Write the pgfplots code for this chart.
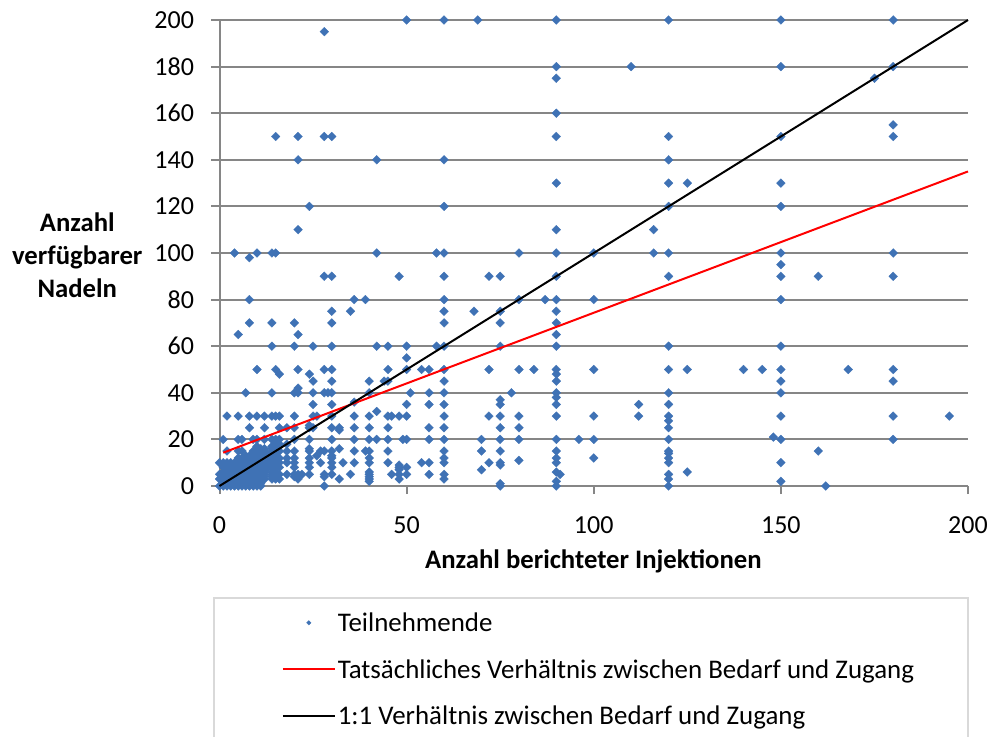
\documentclass[border=0pt]{standalone}
\usepackage{fontspec}
\setmainfont{Carlito}
\usepackage{pgfplots}
\pgfplotsset{compat=1.18}
\definecolor{gridg}{HTML}{868686}
\definecolor{ptblue}{HTML}{3F72B5}
\definecolor{frameg}{HTML}{D9D9D9}
\pgfplotsset{
  redlegend/.style={legend image code/.code={\draw[draw=red,line width=2pt] (0pt,0pt)--(52pt,0pt);}},
  blacklegend/.style={legend image code/.code={\draw[draw=black,line width=2pt] (0pt,0pt)--(52pt,0pt);}},
  marklegend/.style={legend image code/.code={\draw[mark repeat=2,mark phase=2,##1,mark size=1.6pt] plot coordinates {(0pt,0pt)(26pt,0pt)(52pt,0pt)};}},
}
\begin{document}
\begin{tikzpicture}[x=1pt,y=1pt]
\useasboundingbox (0,0) rectangle (992,736);
\clip (0,0) rectangle (992,736);
\draw[frameg,line width=1.6pt] (214,-10) -- (214,138) -- (968,138) -- (968,-10);
\begin{axis}[
  at={(219.5pt,250pt)},anchor=south west,
  width=748.5pt,height=466pt,scale only axis,
  xmin=0,xmax=200,ymin=0,ymax=200,
  xtick={0,50,100,150,200},ytick={0,20,...,200},
  axis lines=left,
  axis line style={-,gridg,line width=2pt},
  ymajorgrids,
  grid style={gridg,line width=2pt},
  tick align=outside,major tick length=8pt,
  tick style={gridg,line width=2pt},
  tick label style={font=\fontsize{26}{28}\selectfont},
  /pgf/number format/assume math mode=true,
  xticklabel style={yshift=-19pt},
  yticklabel style={xshift=-14pt},
  xlabel={\textbf{Anzahl berichteter Injektionen}},
  xlabel style={font=\fontsize{26.7}{28}\selectfont,anchor=center,at={(axis description cs:0.4995,-0.161)}},
  ylabel={\textbf{Anzahl}\\\textbf{verfügbarer}\\\textbf{Nadeln}},
  ylabel style={font=\fontsize{26.7}{33}\selectfont,rotate=-90,align=center,anchor=center,at={(axis description cs:-0.19,0.496)}},
  clip mode=individual,clip=false,
  legend style={at={(axis description cs:0.083,-0.2672)},anchor=north west,draw=none,fill=none,
    font=\fontsize{26.9}{29}\selectfont,inner sep=0pt,row sep=22.5pt,
    /tikz/every even column/.append style={column sep=6pt}},
  legend cell align=left,
]
\addplot[only marks,mark=square*,mark options={rotate=45,fill=ptblue,draw=ptblue,line width=0.3pt},mark size=3.1pt,marklegend]
coordinates {
(50,200)(60,200)(69,200)(90,200)(120,200)(150,200)(180,200)
(28,195)
(90,180)(110,180)(150,180)(180,180)(90,175)(175,175)(90,160)(180,155)
(15,150)(21,150)(28,150)(30,150)(90,150)(120,150)(150,150)(180,150)
(21,140)(42,140)(60,140)(120,140)
(90,130)(120,130)(125,130)(150,130)
(24,120)(60,120)(120,120)(150,120)
(21,110)(90,110)(116,110)
(4,100)(10,100)(14,100)(15,100)(42,100)(58,100)(60,100)(80,100)(90,100)(100,100)(116,100)(120,100)(150,100)(180,100)
(8,98)(150,95)
(28,90)(30,90)(48,90)(60,90)(72,90)(75,90)(90,90)(120,90)(150,90)(160,90)(180,90)
(8,80)(36,80)(39,80)(60,80)(80,80)(87,80)(90,80)(100,80)(150,80)
(30,75)(35,75)(60,75)(68,75)(75,75)(90,75)
(8,70)(14,70)(20,70)(30,70)(60,70)(75,70)(90,70)
(5,65)(21,65)(90,65)
(14,60)(20,60)(25,60)(30,60)(42,60)(45,60)(50,60)(58,60)(60,60)(75,60)(90,60)(120,60)(150,60)
(50,55)
(10,50)(15,50)(21,50)(28,50)(30,50)(45,50)(50,50)(54,50)(56,50)(60,50)(72,50)(80,50)(84,50)(90,50)(100,50)(120,50)(125,50)(140,50)(145,50)(150,50)(168,50)(180,50)
(16,48)(24,48)(90,48)
(25,45)(30,45)(40,45)(44,45)(45,45)(60,45)(90,45)(150,45)(180,45)
(21,42)(7,40)(14,40)(20,40)(21,40)(25,40)(28,40)(29,40)(30,40)(40,40)(51,40)(56,40)(60,40)(78,40)(90,40)(120,40)(150,40)
(75,37)(90,38)
(25,35)(30,35)(36,36)(50,35)(56,35)(60,35)(75,35)(90,35)(112,35)(120,35)
(42,32)
(2,30)(5,30)(8,30)(10,30)(12,30)(14,30)(15,30)(16,30)(20,30)(25,30)(26,30)(30,30)(36,30)(40,30)(45,30)(46,30)(48,30)(50,30)(60,30)(72,30)(75,30)(80,30)(90,30)(100,30)(112,30)(120,30)(150,30)(180,30)(195,30)
(120,28)(24,26)
(8,25)(12,25)(16,25)(18,25)(20,25)(24,25)(25,25)(30,25)(32,25)(36,25)(40,25)(45,25)(56,25)(60,25)(75,25)(80,25)(120,25)(32,24)
(148,21)
(1,20)(5,20)(6,20)(9,20)(10,20)(12,20)(14,20)(15,20)(16,20)(20,20)(24,20)(30,20)(36,20)(40,20)(42,20)(45,20)(49,20)(50,20)(56,20)(60,20)(70,20)(75,20)(80,20)(90,20)(96,20)(100,20)(120,20)(150,20)(180,20)
(15,18)(16,18)(18,18)(10,17)(14,17)(15,17)(16,17)
(11,16)(12,16)(14,16)(15,16)(24,16)(32,16)
(2,15)(5,15)(6,15)(9,15)(10,15)(12,15)(14,15)(15,15)(16,15)(18,15)(20,15)(24,15)(27,15)(28,15)(30,15)(36,15)(39,15)(40,15)(45,15)(60,15)(70,15)(75,15)(90,15)(120,15)(160,15)
(9,14)(10,14)(12,14)(120,14)
(7,13)(8,13)(9,13)(10,13)(11,13)(12,13)(13,13)(14,13)(15,13)(26,13)(30,13)
(5,12)(6,12)(7,12)(8,12)(9,12)(10,12)(11,12)(12,12)(13,12)(14,12)(15,12)(16,12)(18,12)(20,12)(24,12)(30,12)(40,12)(60,12)(90,12)(100,12)(120,12)
(80,11)
(0,10)(1,10)(2,10)(3,10)(4,10)(5,10)(6,10)(7,10)(8,10)(9,10)(10,10)(11,10)(12,10)(13,10)(14,10)(15,10)(16,10)(18,10)(20,10)(24,10)(27,10)(30,10)(33,10)(36,10)(40,10)(45,10)(54,10)(56,10)(60,10)(72,10)(75,10)(90,10)(120,10)(150,10)
(75,9)(48,9)
(1,8)(2,8)(3,8)(4,8)(5,8)(6,8)(7,8)(8,8)(9,8)(10,8)(11,8)(12,8)(13,8)(14,8)(15,8)(16,8)(20,8)(24,8)(30,8)(48,8)(50,8)
(2,7)(3,7)(5,7)(7,7)(9,7)(10,7)(11,7)(12,7)(48,7)(70,7)
(1,6)(2,6)(3,6)(4,6)(5,6)(6,6)(7,6)(8,6)(9,6)(10,6)(11,6)(12,6)(14,6)(15,6)(40,6)(90,6)(125,6)
(0,5)(1,5)(2,5)(3,5)(4,5)(5,5)(6,5)(7,5)(8,5)(9,5)(10,5)(11,5)(12,5)(14,5)(15,5)(16,5)(18,5)(20,5)(21,5)(22,5)(24,5)(28,5)(30,5)(35,5)(40,5)(46,5)(48,5)(50,5)(56,5)(60,5)(91,5)(120,5)
(1,4)(2,4)(3,4)(4,4)(5,4)(6,4)(7,4)(8,4)(9,4)(10,4)(11,4)(12,4)(14,4)(15,4)(20,4)(28,4)(40,4)
(0,3)(1,3)(2,3)(3,3)(4,3)(5,3)(6,3)(7,3)(8,3)(9,3)(10,3)(11,3)(12,3)(14,3)(15,3)(16,3)(21,3)(32,3)(40,3)(48,3)(60,3)(120,3)
(1,2)(2,2)(3,2)(4,2)(5,2)(6,2)(7,2)(8,2)(9,2)(10,2)(11,2)(40,2)(90,2)(150,2)
(1,1)(2,1)(3,1)(4,1)(5,1)(6,1)(7,1)(8,1)(9,1)(10,1)(11,1)(75,1)
(0,0)(1,0)(2,0)(3,0)(4,0)(5,0)(6,0)(7,0)(8,0)(9,0)(10,0)(11,0)(28,0)(75,0)(90,0)(120,0)(162,0)
};
\addlegendentry{Teilnehmende}
\addplot[red,line width=2pt,redlegend] coordinates {(1,14.3)(200,135)};
\addlegendentry{Tatsächliches Verhältnis zwischen Bedarf und Zugang}
\addplot[black,line width=2pt,blacklegend] coordinates {(0,0)(200,200)};
\addlegendentry{1:1 Verhältnis zwischen Bedarf und Zugang}
\end{axis}
\end{tikzpicture}
\end{document}
